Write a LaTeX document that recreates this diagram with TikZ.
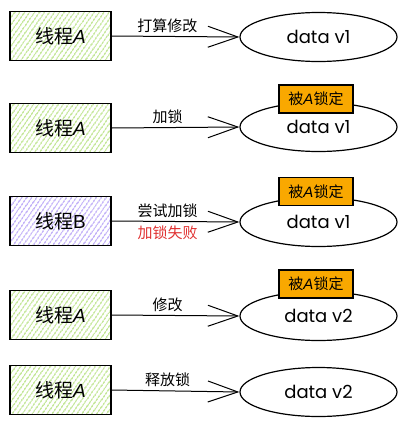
\documentclass[tikz,border=0pt]{standalone}
\usepackage{fontspec}
\setmainfont{Noto Sans CJK SC}
\newfontfamily\hand{Poppins}
\newfontfamily\latin{Liberation Sans}
\usepackage{tikz}
\usetikzlibrary{shapes.geometric, arrows.meta, patterns.meta}
\definecolor{hatchgreen}{HTML}{A9DC6A}
\definecolor{hatchviolet}{HTML}{A88FF5}
\definecolor{lockorange}{HTML}{F9A800}
\definecolor{failred}{HTML}{E03131}

\begin{document}
\begin{tikzpicture}[x=1pt, y=-1pt,
    thread/.style={draw, line width=1.2pt, minimum width=101pt, minimum height=49pt,
        pattern={Lines[angle=55, distance=4pt, line width=1.1pt]}, pattern color=hatchgreen,
        font=\fontsize{19}{21}\selectfont},
    data/.style={draw, line width=1.2pt, ellipse, minimum width=157pt, minimum height=49pt,
        font=\hand\fontsize{18}{20}\selectfont},
    lock/.style={draw, line width=1.2pt, fill=lockorange, minimum width=74pt, minimum height=28pt,
        inner sep=1pt, font=\fontsize{15}{17}\selectfont},
    arr/.style={line width=1pt, -{Straight Barb[length=30pt, width=21pt, line width=1pt]}},
    lbl/.style={midway, font=\fontsize{15}{17}\selectfont}]
    \useasboundingbox (0,0) rectangle (405,426);

    \node[thread] (t1) at (60.5, 36) {线程{\latin\itshape A}};
    \node[data] (d1) at (318.5, 37) {data v1};
    \draw[arr] (t1.east) -- (d1.west) node[lbl, above, xshift=-8pt] {打算修改};

    \node[thread] (t2) at (60.5, 128) {线程{\latin\itshape A}};
    \node[data] (d2) at (318.5, 127) {data v1};
    \node[lock] (l2) at (316, 99) {被{\latin\itshape A}锁定};
    \draw[arr] (t2.east) -- (d2.west) node[lbl, above, xshift=-8pt] {加锁};

    \node[thread, pattern color=hatchviolet] (t3) at (60.5, 221) {线程{\latin B}};
    \node[data] (d3) at (318.5, 222) {data v1};
    \node[lock] (l3) at (316, 191.5) {被{\latin\itshape A}锁定};
    \draw[arr] (t3.east) -- (d3.west) node[lbl, above, xshift=-8pt] {尝试加锁}
        node[lbl, below, xshift=-8pt, text=failred] {加锁失败};

    \node[thread] (t4) at (60.5, 315) {线程{\latin\itshape A}};
    \node[data] (d4) at (318.5, 316) {data v2};
    \node[lock] (l4) at (316, 284) {被{\latin\itshape A}锁定};
    \draw[arr] (t4.east) -- (d4.west) node[lbl, above, xshift=-8pt] {修改};

    \node[thread] (t5) at (60.5, 390) {线程{\latin\itshape A}};
    \node[data] (d5) at (318.5, 392) {data v2};
    \draw[arr] (t5.east) -- (d5.west) node[lbl, above, xshift=-8pt] {释放锁};
\end{tikzpicture}
\end{document}
